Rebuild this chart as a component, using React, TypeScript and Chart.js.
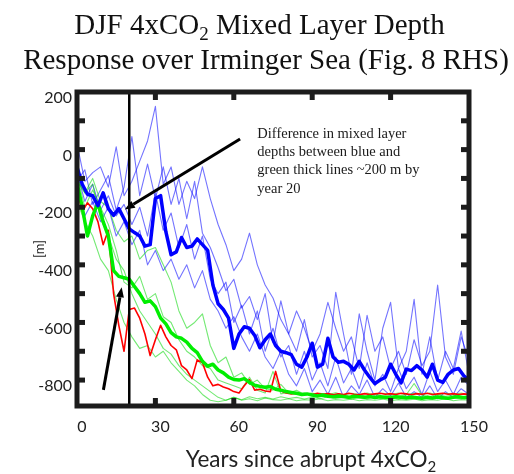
import React, { useEffect, useRef } from "react";
import { Chart, registerables } from "chart.js";

Chart.register(...registerables);

// ---------- data ----------
const years2 = [
  0, 2, 4, 6, 8, 10, 12, 14, 16, 18, 20, 22, 24, 26, 28, 30, 32, 34, 36, 38,
  40, 42, 44, 46, 48, 50, 52, 54, 56, 58, 60, 62, 64, 66, 68, 70, 72, 74, 76, 78,
  80, 82, 84, 86, 88, 90, 92, 94, 96, 98, 100, 102, 104, 106, 108, 110, 112, 114, 116, 118,
  120, 122, 124, 126, 128, 130, 132, 134, 136, 138, 140, 142, 144, 146, 148, 150,
];
const years3 = [
  0, 3, 6, 9, 12, 15, 18, 21, 24, 27, 30, 33, 36, 39, 42, 45, 48, 51, 54, 57,
  60, 63, 66, 69, 72, 75, 78, 81, 84, 87, 90, 93, 96, 99, 102, 105, 108, 111, 114, 117,
  120, 123, 126, 129, 132, 135, 138, 141, 144, 147, 150,
];

// thick ensemble means / red run (every 2 years)
const blueThick = [
  -60, -120, -155, -160, -195, -150, -205, -228, -205, -240,
  -275, -288, -300, -335, -330, -170, -160, -285, -365, -355,
  -305, -340, -335, -310, -330, -350, -470, -535, -555, -585,
  -690, -640, -615, -620, -645, -688, -660, -640, -680, -700,
  -705, -712, -745, -755, -720, -672, -755, -745, -655, -720,
  -738, -735, -745, -765, -735, -765, -790, -812, -800, -790,
  -745, -780, -810, -762, -767, -750, -765, -790, -745, -800,
  -808, -780, -765, -760, -785, -800,
];
const greenThick = [
  -115, -200, -300, -230, -185, -250, -300, -420, -440, -445,
  -450, -475, -500, -530, -525, -545, -585, -605, -635, -650,
  -655, -668, -690, -705, -735, -752, -745, -765, -775, -790,
  -798, -800, -795, -808, -818, -822, -825, -822, -832, -835,
  -840, -843, -846, -850, -848, -852, -855, -852, -856, -858,
  -855, -857, -860, -856, -858, -860, -857, -861, -858, -860,
  -862, -858, -860, -862, -859, -861, -863, -860, -862, -859,
  -861, -863, -860, -858, -861, -860,
];
const redRun = [
  -140, -215, -185, -205, -250, -330, -280, -500, -610, -700,
  -555, -550, -585, -640, -715, -660, -610, -650, -680, -695,
  -750, -765, -795, -730, -740, -790, -820, -815, -824, -830,
  -840, -845, -820, -798, -835, -832, -838, -840, -770, -838,
  -845, -848, -846, -850, -848, -850, -846, -849, -847, -851,
  -848, -850, -846, -849, -851, -847, -850, -848, -846, -849,
  -847, -850, -846, -848, -851, -847, -849, -846, -850, -848,
  -846, -849, -847, -850, -848, -849,
];

// thin individual members (every 3 years)
const blueThin1 = [
  20, -110, -80, -60, -130, 10, -160, -110, -40, 30,
  150, -120, -60, -190, -110, -170, -60, -170, -260, -330,
  -420, -380, -290, -400, -470, -515, -590, -640, -560, -620,
  -700, -640, -530, -620, -700, -650, -760, -575, -700, -650,
  -760, -700, -780, -660, -750, -700, -470, -720, -780, -650,
  -730,
];
const blueThin2 = [
  -110, -70, -190, -140, -90, -210, -130, 45, -160, -50,
  -170, -60, -190, -100, -240, -110, -290, -340, -410, -490,
  -450, -550, -510, -590, -500, -670, -525, -640, -700, -590,
  -720, -680, -760, -495, -640, -780, -570, -700, -800, -620,
  -530, -760, -700, -520, -780, -650, -800, -700, -760, -630,
  -780,
];
const blueThin3 = [
  -150, -230, -180, -250, -200, -300, -250, -330, -280, -400,
  -350, -420, -380, -450, -400, -480, -420, -520, -560, -620,
  -580, -650, -700, -640, -720, -760, -700, -780, -820, -760,
  -840, -800, -850, -790, -860, -820, -850, -800, -860, -830,
  -855, -810, -860, -840, -860, -820, -865, -840, -860, -830,
  -850,
];
const blueThin4 = [
  -80, -180, -120, -210, -160, -230, -190, -260, -200, -300,
  -150, -280, -220, -340, -260, -380, -300, -450, -500, -460,
  -600, -540, -640, -560, -700, -620, -720, -680, -780, -700,
  -800, -740, -820, -720, -810, -760, -830, -740, -820, -780,
  -840, -760, -830, -790, -850, -770, -840, -800, -850, -790,
  -820,
];
const greenThin1 = [
  -100, -150, -120, -240, -300, -380, -420, -500, -560, -600,
  -640, -690, -710, -750, -780, -800, -820, -840, -860, -870,
  -860, -870, -865, -872, -862, -868, -870, -865, -872, -868,
  -870, -865, -872, -868, -870, -866, -872, -868, -870, -866,
  -872, -868, -870, -866, -872, -868, -870, -865, -872, -868,
  -870,
];
const greenThin2 = [
  -110, -150, -100, -180, -200, -280, -320, -300, -380, -350,
  -340, -400, -460, -560, -620, -600, -570, -680, -740, -720,
  -790, -775, -815, -800, -830, -835, -815, -845, -835, -850,
  -845, -855, -848, -856, -850, -858, -852, -856, -850, -858,
  -852, -857, -851, -812, -853, -857, -850, -856, -852, -858,
  -854,
];
const greenThin3 = [
  -180, -250, -300, -380, -420, -520, -600, -650, -690, -680,
  -720, -700, -740, -770, -800, -820, -850, -870, -875, -870,
  -860, -868, -858, -865, -860, -866, -858, -864, -860, -866,
  -860, -865, -858, -864, -860, -866, -860, -865, -858, -864,
  -860, -866, -860, -865, -858, -864, -860, -866, -860, -865,
  -862,
];
const greenThin4 = [
  -90, -200, -140, -200, -260, -350, -460, -480, -440, -520,
  -500, -580, -600, -660, -700, -720, -750, -760, -800, -810,
  -820, -830, -790, -835, -845, -770, -848, -842, -850, -845,
  -852, -846, -850, -844, -852, -846, -850, -845, -852, -846,
  -850, -845, -852, -846, -850, -845, -852, -846, -850, -845,
  -852,
];

const xTicks = [0, 30, 60, 90, 120, 150];
const yTicks = [-800, -700, -600, -500, -400, -300, -200, -100, 0, 100, 200];
const yMin = -890;
const yMax = 200;
const markerYear = 20;

const titleLine1 = [{ t: "DJF 4xCO" }, { t: "2", sub: true }, { t: " Mixed Layer Depth" }];
const titleLine2 = [{ t: "Response over Irminger Sea (Fig. 8 RHS)" }];
const xTitle = [{ t: "Years since abrupt 4xCO" }, { t: "2", sub: true }];
const yTitle = "[m]";
const noteLines = [
  "Difference in mixed layer",
  "depths between blue and",
  "green thick lines ~200 m by",
  "year 20",
];
// annotation anchors in data units
const noteAnchor = { x: 69, y: 54 };
const arrows = [
  { from: { x: 62.4, y: 37 }, to: { x: 18.3, y: -208 } },
  { from: { x: 10.1, y: -834 }, to: { x: 17.1, y: -478 } },
];

// ---------- helpers ----------
type Seg = { t: string; sub?: boolean };

function drawRich(
  ctx: CanvasRenderingContext2D,
  segs: Seg[],
  cx: number,
  baseline: number,
  font: string,
  subFont: string,
  drop: number
) {
  ctx.textBaseline = "alphabetic";
  ctx.textAlign = "left";
  let total = 0;
  const widths = segs.map((s) => {
    ctx.font = s.sub ? subFont : font;
    const w = ctx.measureText(s.t).width;
    total += w;
    return w;
  });
  let x = cx - total / 2;
  segs.forEach((s, i) => {
    ctx.font = s.sub ? subFont : font;
    ctx.fillText(s.t, x, s.sub ? baseline + drop : baseline);
    x += widths[i];
  });
}

function drawArrow(ctx: CanvasRenderingContext2D, x1: number, y1: number, x2: number, y2: number) {
  const ang = Math.atan2(y2 - y1, x2 - x1);
  const head = 10;
  const hw = 4;
  const bx = x2 - head * Math.cos(ang);
  const by = y2 - head * Math.sin(ang);
  ctx.beginPath();
  ctx.moveTo(x1, y1);
  ctx.lineTo(bx, by);
  ctx.lineWidth = 3;
  ctx.stroke();
  ctx.beginPath();
  ctx.moveTo(x2, y2);
  ctx.lineTo(bx + hw * Math.sin(ang), by - hw * Math.cos(ang));
  ctx.lineTo(bx - hw * Math.sin(ang), by + hw * Math.cos(ang));
  ctx.closePath();
  ctx.fill();
}

const decorPlugin = {
  id: "decor",
  afterDatasetsDraw(chart: any) {
    const { ctx, chartArea: a, scales } = chart;
    const xs = scales.x;
    const ys = scales.y;
    ctx.save();
    ctx.strokeStyle = "#000";
    ctx.fillStyle = "#000";
    // vertical marker line
    const vx = xs.getPixelForValue(markerYear);
    ctx.lineWidth = 2.5;
    ctx.beginPath();
    ctx.moveTo(vx, a.top);
    ctx.lineTo(vx, a.bottom);
    ctx.stroke();
    // arrows
    arrows.forEach((ar) => {
      drawArrow(
        ctx,
        xs.getPixelForValue(ar.from.x),
        ys.getPixelForValue(ar.from.y),
        xs.getPixelForValue(ar.to.x),
        ys.getPixelForValue(ar.to.y)
      );
    });
    // note text
    ctx.fillStyle = "#1a1a1a";
    ctx.font = '14.5px "Liberation Serif", "DejaVu Serif", serif';
    ctx.textAlign = "left";
    ctx.textBaseline = "middle";
    const nx = xs.getPixelForValue(noteAnchor.x);
    const ny = ys.getPixelForValue(noteAnchor.y);
    noteLines.forEach((l, i) => ctx.fillText(l, nx, ny + i * 18.3));
    // frame
    ctx.strokeStyle = "#1c1c1c";
    ctx.lineWidth = 5;
    ctx.strokeRect(a.left, a.top, a.right - a.left, a.bottom - a.top);
    // tick marks (inward)
    ctx.fillStyle = "#1c1c1c";
    yTicks.forEach((v) => {
      if (v <= yMin || v >= yMax) return;
      const py = ys.getPixelForValue(v);
      ctx.fillRect(a.left, py - 2.5, 8, 5);
      ctx.fillRect(a.right - 8, py - 2.5, 8, 5);
    });
    xTicks.forEach((v) => {
      if (v <= 0 || v >= 150) return;
      const px = xs.getPixelForValue(v);
      ctx.fillRect(px - 2.5, a.top, 5, 8);
      ctx.fillRect(px - 2.5, a.bottom - 8, 5, 8);
    });
    ctx.restore();
  },
  afterDraw(chart: any) {
    const { ctx } = chart;
    ctx.save();
    ctx.fillStyle = "#111";
    const serif = '"Liberation Serif", "DejaVu Serif", serif';
    drawRich(ctx, titleLine1, 259.5, 34, `29px ${serif}`, `19px ${serif}`, 6);
    drawRich(ctx, titleLine2, 266, 69, `29px ${serif}`, `19px ${serif}`, 6);
    ctx.fillStyle = "#222";
    drawRich(ctx, xTitle, 311, 467, "22.5px Lato, sans-serif", "15px Lato, sans-serif", 5);
    ctx.restore();
  },
};

function pts(xs: number[], ys: number[]) {
  return xs.map((x, i) => ({ x, y: ys[i] }));
}

const THIN_BLUE = "rgba(0,0,255,0.55)";
const THIN_GREEN = "rgba(0,215,0,0.55)";

export default function App() {
  const ref = useRef<HTMLCanvasElement | null>(null);

  useEffect(() => {
    if (!ref.current) return;
    const line = (data: any, color: string, width: number) => ({
      data,
      borderColor: color,
      borderWidth: width,
      pointRadius: 0,
      tension: 0,
      fill: false,
      borderJoinStyle: "round" as const,
    });
    const chart = new Chart(ref.current, {
      type: "line",
      data: {
        datasets: [
          line(pts(years2, blueThick), "#0000ff", 3.5),
          line(pts(years2, greenThick), "#00ee00", 3.5),
          line(pts(years2, redRun), "#ff0000", 1.6),
          line(pts(years3, greenThin1), THIN_GREEN, 1.1),
          line(pts(years3, greenThin2), THIN_GREEN, 1.1),
          line(pts(years3, greenThin3), THIN_GREEN, 1.1),
          line(pts(years3, greenThin4), THIN_GREEN, 1.1),
          line(pts(years3, blueThin1), THIN_BLUE, 1.1),
          line(pts(years3, blueThin2), THIN_BLUE, 1.1),
          line(pts(years3, blueThin3), THIN_BLUE, 1.1),
          line(pts(years3, blueThin4), THIN_BLUE, 1.1),
        ],
      },
      options: {
        animation: false,
        responsive: false,
        layout: { padding: { left: 0, right: 45, top: 92, bottom: 0 } },
        plugins: {
          legend: { display: false },
          tooltip: { enabled: false },
          title: { display: false },
        },
        scales: {
          x: {
            type: "linear",
            min: 0,
            max: 150,
            grid: { display: false, drawTicks: false },
            border: { display: false },
            afterBuildTicks: (s: any) => {
              s.ticks = xTicks.map((v) => ({ value: v }));
            },
            ticks: {
              padding: 11,
              labelOffset: 5,
              maxRotation: 0,
              autoSkip: false,
              color: "#222",
              font: { family: "Lato", size: 16 },
            },
            afterFit: (s: any) => {
              s.height = 68;
            },
          },
          y: {
            type: "linear",
            min: yMin,
            max: yMax,
            grid: { display: false, drawTicks: false },
            border: { display: false },
            afterBuildTicks: (s: any) => {
              s.ticks = yTicks.map((v) => ({ value: v }));
            },
            ticks: {
              padding: 5,
              labelOffset: 6,
              autoSkip: false,
              color: "#222",
              font: { family: "Lato", size: 16 },
              callback: (v: any) => (Number(v) % 200 === 0 ? String(v) : ""),
            },
            title: {
              display: true,
              text: yTitle,
              color: "#222",
              font: { family: "Lato", size: 13 },
              padding: { top: 32, bottom: 0 },
            },
            afterFit: (s: any) => {
              s.width = 77;
            },
          },
        },
      },
      plugins: [decorPlugin],
    });
    return () => chart.destroy();
  }, []);

  return (
    <div style={{ position: "fixed", left: 0, top: 0, width: 514, height: 474, background: "#fff" }}>
      <canvas ref={ref} width={514} height={474} style={{ width: 514, height: 474, display: "block" }} />
    </div>
  );
}
